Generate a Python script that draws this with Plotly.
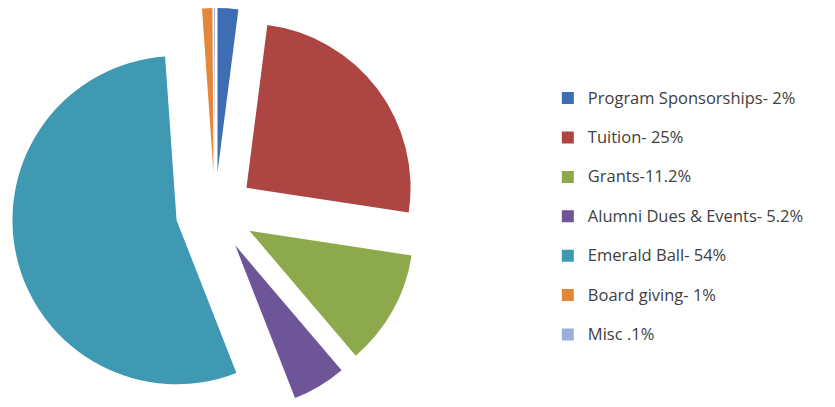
import plotly.graph_objects as go

labels = ["Program Sponsorships- 2%", "Tuition- 25%", "Grants-11.2%",
          "Alumni Dues & Events- 5.2%", "Emerald Ball- 54%",
          "Board giving- 1%", "Misc .1%"]
values = [2, 25, 11.2, 5.2, 54, 1, 0.1]
colors = ["#3E6DB3", "#AD4643", "#8CA94B", "#6E5598", "#3F99B2", "#E3883A", "#9AB0DA"]

legend_labels = ["<span style='font-size:16.5px'>" + l + "</span><br>&nbsp;" for l in labels]

fig = go.Figure(go.Pie(
    labels=legend_labels,
    values=values,
    sort=False,
    direction="clockwise",
    rotation=0,
    pull=[0.24] * len(values),
    marker=dict(colors=colors, line=dict(width=0)),
    textinfo="none",
    hoverinfo="percent",
    domain=dict(x=[3.5 / 835, 410.5 / 835], y=[0, 1]),
))

fig.update_layout(
    width=835, height=407,
    margin=dict(l=0, r=0, t=0, b=0),
    paper_bgcolor="white",
    plot_bgcolor="white",
    showlegend=True,
    legend=dict(
        x=0.6465, y=0.817, xanchor="left", yanchor="top",
        font=dict(family="Open Sans", size=14, color="#404040"),
        valign="top",
        itemwidth=30,
        traceorder="normal",
    ),
)

fig.write_html("out.html")
